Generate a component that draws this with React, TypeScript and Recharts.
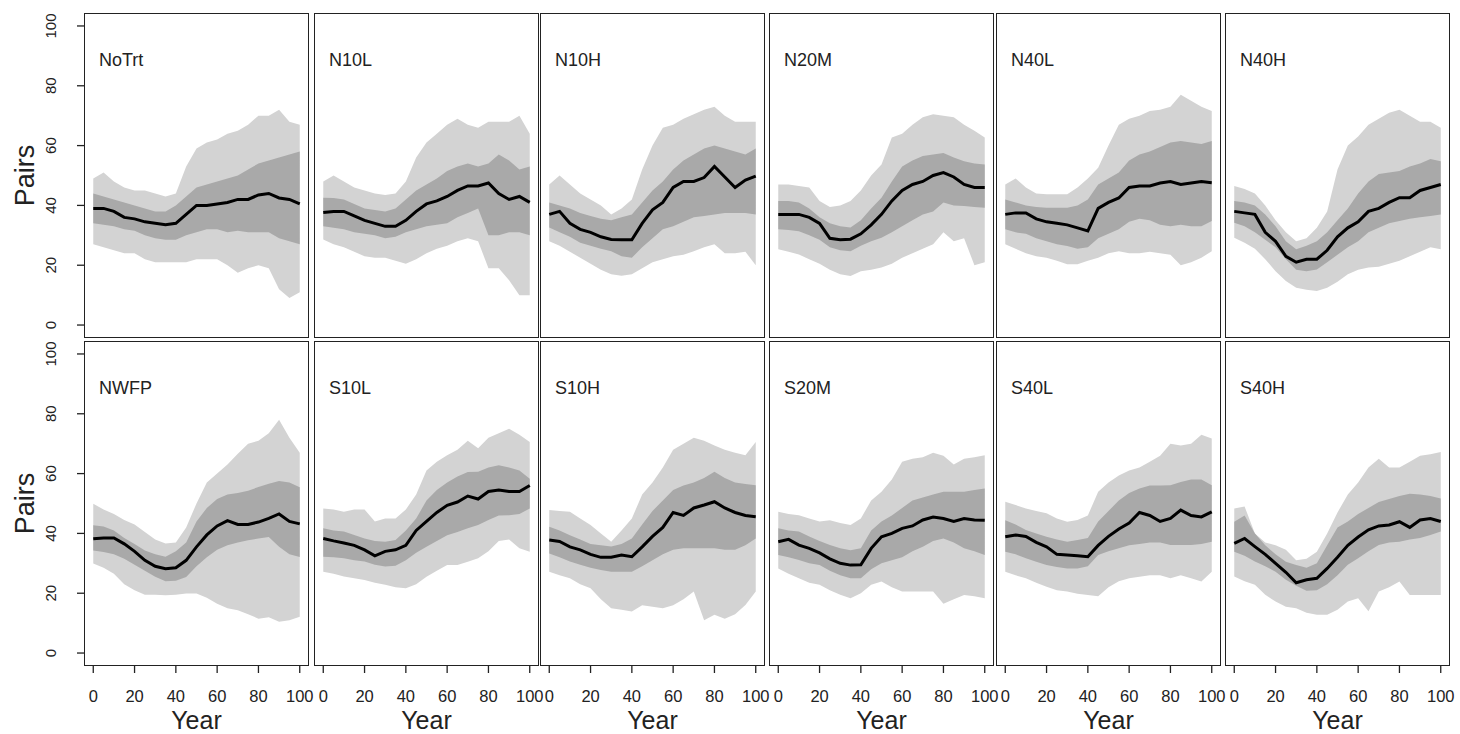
import React from "react";
import {
  ComposedChart,
  Area,
  Line,
  XAxis,
  YAxis,
  Label,
} from "recharts";

// simulated pairs per treatment: median, inner band, outer band (every 5 years)
const years = [0, 5, 10, 15, 20, 25, 30, 35, 40, 45, 50, 55, 60, 65, 70, 75, 80, 85, 90, 95, 100];
const yTicks = [0, 20, 40, 60, 80, 100];
const xTicks = [0, 20, 40, 60, 80, 100];

const noTrtMed = [39, 39, 38, 36, 35.5, 34.5, 34, 33.5, 34, 37, 40, 40, 40.5, 41, 42, 42, 43.5, 44, 42.5, 42, 40.5];
const noTrtInHi = [44, 43, 42, 41, 40, 39, 38, 38, 40, 43, 46, 47, 48, 49, 50, 52, 54, 55, 56, 57, 58];
const noTrtInLo = [34, 33.5, 33, 32, 31.5, 30, 29, 28.5, 28.5, 30, 31, 32, 32, 31, 31.5, 31, 31, 31, 29, 28, 27];
const noTrtOutHi = [49, 51, 48, 46, 45, 45, 44, 43, 44, 53, 59, 61, 62, 64, 65, 67, 70, 70, 72, 68, 67];
const noTrtOutLo = [27, 26, 25, 24, 24, 22, 21, 21, 21, 21, 22, 22, 22, 20, 17.5, 19, 20, 19, 12, 9, 11];

const n10lMed = [37.6, 38, 38, 36.5, 35, 34, 33, 33, 35, 38, 40.5, 41.5, 43, 45, 46.5, 46.5, 47.5, 44, 42, 43, 41];
const n10lInHi = [42.6, 42.5, 42, 40.5, 39, 38.5, 38, 39, 42, 45, 47, 49, 51.5, 53, 54, 53, 54, 57, 55, 52, 53];
const n10lInLo = [33, 32.5, 32, 31, 30.5, 30, 29, 29.5, 31, 32, 33, 33.5, 34, 36, 37.5, 39, 30, 30, 31, 31, 30];
const n10lOutHi = [48, 50, 48, 46, 45, 44, 43.5, 44, 48, 56, 61, 64, 67, 69, 67, 66, 68, 68, 68, 70, 64];
const n10lOutLo = [28.6, 27, 26, 24.5, 23, 22.5, 22.5, 21.5, 20.5, 22, 24, 25.5, 26.5, 28, 29, 28, 19, 19, 15, 10, 10];

const n10hMed = [37, 38, 34, 32, 31, 29.5, 28.6, 28.5, 28.5, 34, 38.5, 41, 46, 48, 48, 49.3, 53, 49.5, 46, 48.5, 49.8];
const n10hInHi = [41, 40, 39, 37.5, 36.5, 35.5, 35, 36, 37, 41, 45, 48, 52, 55, 57, 59, 60, 59, 58, 57, 59];
const n10hInLo = [32.6, 31, 29.5, 27.5, 26.5, 25.5, 24.7, 23, 22.5, 26, 29, 32, 33, 34.5, 36, 36.5, 37, 37.5, 37.5, 37.5, 37];
const n10hOutHi = [47, 50, 47, 44, 42, 40, 37, 39, 42, 52, 60, 66, 67, 69, 70.5, 72, 73, 70, 68, 68, 68];
const n10hOutLo = [28, 26.5, 24.5, 22.5, 20.5, 18.5, 17, 16.5, 17, 19, 21, 22, 23, 23.5, 24.7, 26, 27, 24, 24, 24.5, 20];

const n20mMed = [37, 37, 37, 36, 34, 29, 28.5, 28.7, 30.5, 33.5, 37, 41.5, 45, 47, 48, 50, 51, 49.5, 47, 46, 46];
const n20mInHi = [41.5, 41.5, 41, 39, 36, 34, 33, 32.6, 35, 39, 42.6, 48, 53, 55, 56.5, 57, 57.5, 56, 54.8, 54, 53.7];
const n20mInLo = [32, 31.8, 31.4, 30, 28.5, 26, 25, 24.7, 26.5, 28, 29.2, 31, 33, 35, 37, 38, 41, 40, 39.8, 39.5, 39.2];
const n20mOutHi = [47, 47, 46.5, 46, 41.5, 39.5, 40, 41.5, 45, 50, 53.7, 62.7, 64, 67, 69.5, 70.5, 70, 69.5, 67, 65, 62.7];
const n20mOutLo = [25.3, 24.5, 23.6, 22, 20.5, 18.5, 17, 16.4, 18, 18.5, 19.2, 20.5, 22.5, 24, 25.5, 27, 31, 28, 29, 20, 21];

const n40lMed = [37, 37.5, 37.5, 35.5, 34.5, 34, 33.5, 32.5, 31.5, 39, 41, 42.5, 46, 46.5, 46.5, 47.5, 48, 47, 47.5, 48, 47.6];
const n40lInHi = [42, 41, 40, 39.5, 39.2, 39.2, 39.2, 40, 42, 47, 49, 51, 55, 57, 58, 59.5, 61, 61.5, 61, 60.5, 61.5];
const n40lInLo = [32, 31, 30.5, 29, 28, 27, 26.4, 25.5, 26, 29, 30.5, 32, 34.5, 35.5, 35, 33.5, 33, 33.5, 33, 33, 34.8];
const n40lOutHi = [47, 49, 46, 44, 43.7, 43.7, 43.7, 46, 49, 52.6, 60, 67, 69, 70, 71.6, 72, 73, 77, 75, 73, 71.6];
const n40lOutLo = [27, 25.5, 24, 23, 22.5, 21.5, 20.3, 20.3, 21.5, 22.5, 24, 24.7, 24, 24, 24.5, 24, 23.5, 20, 21, 22.5, 24.7];

const n40hMed = [38, 37.5, 37, 31, 28, 23, 21, 22, 22, 25, 29.5, 32.5, 34.5, 38, 39, 41, 42.6, 42.6, 45, 46, 47];
const n40hInHi = [41.5, 41, 40, 37, 33, 28, 25.3, 26.5, 28, 31, 35, 39, 44, 48, 50.5, 51, 51.5, 53, 54, 55.5, 54.8];
const n40hInLo = [34.2, 33, 31, 28.5, 26, 22, 18.5, 18, 18.6, 21, 23.5, 26, 28, 31, 32.5, 34, 34.8, 35.5, 36, 36.5, 37];
const n40hOutHi = [46.5, 45.5, 44, 40, 35, 31, 28, 29, 32.5, 38, 52, 60, 63, 67, 69, 71, 72, 70, 68, 68, 66];
const n40hOutLo = [29.2, 27.5, 25.5, 22, 18, 14.7, 12.5, 11.8, 11.4, 12.5, 14.5, 17, 18.5, 19.2, 19.5, 20.5, 21.5, 23, 24.5, 26, 25.3];

const nwfpMed = [38.2, 38.5, 38.5, 36.5, 34, 31, 29, 28.2, 28.5, 31, 35.5, 39.5, 42.5, 44.3, 43, 43, 43.8, 45, 46.5, 44, 43.2];
const nwfpInHi = [42.7, 42.3, 41, 38.5, 36.5, 34.3, 33, 32.2, 34, 37, 44, 48.5, 51.5, 53, 53.5, 54.3, 55.5, 56.6, 57.5, 57, 55.4];
const nwfpInLo = [34.3, 33.8, 33, 31.5, 29.5, 27.5, 25.5, 24, 24.2, 25.4, 29, 32, 34.5, 36, 37, 37.7, 38.3, 38.8, 35.5, 33, 32.1];
const nwfpOutHi = [49.9, 48, 46.5, 44.5, 43, 40.5, 38, 36.6, 37, 42, 50, 57, 60, 63, 66.6, 70, 71, 73.5, 78, 72, 67];
const nwfpOutLo = [29.9, 28.5, 26.5, 23, 21, 19.5, 19.5, 19.3, 19.5, 19.9, 19.9, 18.5, 16.5, 15, 14.3, 13, 11.5, 12, 10.5, 11, 12.1];

const s10lMed = [38.3, 37.5, 36.8, 36, 34.5, 32.5, 34, 34.5, 36, 41, 44, 47, 49.4, 50.5, 52.5, 51.5, 54, 54.5, 54, 54, 56];
const s10lInHi = [41.7, 41, 40.6, 39.5, 38.3, 37.5, 37.2, 37.8, 41, 45, 51, 54.5, 57, 59, 60.5, 60.6, 62, 62.8, 62, 61, 58.3];
const s10lInLo = [32.2, 32, 31.7, 31, 30.6, 29.5, 28.9, 29.2, 31, 33.5, 35.5, 37.5, 39.4, 40.5, 41.7, 42.8, 44.5, 46, 46.1, 46.5, 48.3];
const s10lOutHi = [48.3, 48, 47.2, 48, 48, 44, 45, 45, 48, 53, 61, 64, 66.1, 68, 71, 68.5, 72, 73.5, 75, 73, 70.6];
const s10lOutLo = [27.2, 26.5, 25.6, 25, 24.4, 23.5, 22.8, 22, 21.7, 23, 25.5, 27.5, 29.4, 29.4, 30.5, 31.7, 34, 37.5, 38, 35, 33.9];

const s10hMed = [37.8, 37.3, 35.5, 34.5, 33, 32, 32, 32.8, 32.2, 35.5, 39, 42, 47, 46, 48.5, 49.5, 50.6, 48.5, 47, 46, 45.6];
const s10hInHi = [42.2, 41, 39.4, 38, 36.5, 36, 35.6, 36.5, 38.3, 43, 47.5, 51, 54.5, 56, 57, 58.5, 60.6, 58.5, 57, 56.5, 56.1];
const s10hInLo = [33.3, 32, 30.6, 29.5, 28.5, 27.8, 27.2, 27.2, 27.2, 29, 31, 33, 34.5, 35, 35, 35, 35, 34.5, 34.5, 36, 38.3];
const s10hOutHi = [47.8, 47.5, 47.2, 45, 42.8, 40, 37.2, 41, 45, 53, 57, 62, 68, 70, 72, 71, 69.4, 68, 67, 66.1, 70.6];
const s10hOutLo = [27.2, 26, 25, 23, 21.7, 18, 15, 14.5, 13.9, 16, 15.5, 15, 16, 18, 20.6, 11, 12.8, 11.5, 13, 16.1, 20.6];

const s20mMed = [37.2, 38, 36.1, 35, 33.5, 31.5, 30, 29.4, 29.5, 35, 38.9, 40, 41.7, 42.5, 44.5, 45.5, 45, 44, 45, 44.5, 44.4];
const s20mInHi = [41.7, 41, 40.6, 39, 37.5, 36.1, 35, 34.4, 35, 41, 44, 46, 48.5, 51, 52, 53, 53.9, 53.9, 53.9, 54.5, 55];
const s20mInLo = [32.8, 32, 31.1, 30, 29.4, 27.5, 26, 25, 25, 28, 30, 31, 32, 34, 35.5, 37.5, 38.3, 37, 35, 34, 32.8];
const s20mOutHi = [47.2, 46.5, 46.1, 45, 44, 44.4, 43.5, 42.8, 45, 51, 53.9, 58, 64, 65, 65.5, 67, 66, 63, 65, 65.5, 66.1];
const s20mOutLo = [28.3, 26.5, 25, 23.5, 22.8, 21, 19.5, 18.3, 20, 22.8, 23.9, 22, 20.6, 20.6, 20.6, 20.6, 16.5, 18, 19.4, 19, 18.3];

const s40lMed = [38.9, 39.5, 39, 37, 35.5, 33, 32.8, 32.5, 32.2, 36, 39, 41.5, 43.5, 47, 46, 44, 45, 47.8, 46, 45.5, 47.2];
const s40lInHi = [44.4, 43, 41.1, 40, 38.9, 38, 37.2, 37.8, 38.5, 44, 47.5, 51, 53.5, 55, 56, 56, 56.1, 57.2, 58, 58, 56.1];
const s40lInLo = [33.9, 33, 31.7, 30.5, 29.4, 28.8, 28.3, 28.3, 29, 32.8, 34, 35, 36, 36.5, 37, 37, 36.1, 36.1, 36.1, 36.5, 37.2];
const s40lOutHi = [50.6, 49.5, 48.3, 47.5, 46.7, 45, 43.9, 44.5, 46, 53.9, 57, 59.4, 61, 62, 64, 66, 70, 69.4, 70, 73, 71.7];
const s40lOutLo = [27.2, 26, 25, 23.5, 22.2, 21, 20.6, 19.8, 19.4, 19, 22, 24, 25, 25.5, 26, 26, 25, 26, 25, 23.9, 27.2];

const s40hMed = [36.7, 38.3, 35.6, 33, 30, 27, 23.5, 24.5, 25, 28.3, 32, 36, 38.8, 41.2, 42.5, 42.8, 43.9, 42, 44.5, 45, 44];
const s40hInHi = [43.9, 46, 40, 36, 33, 30.5, 29.4, 28.5, 30, 36, 42, 44, 46.5, 48.5, 50.5, 51.5, 52.5, 53.3, 53, 52.5, 51.7];
const s40hInLo = [33.9, 32.5, 30.6, 29, 27.2, 24.5, 22.5, 20.8, 21, 23, 26, 29.5, 31.7, 34, 36.1, 37, 37.2, 38, 38.5, 39.5, 40.6];
const s40hOutHi = [48.3, 49, 40, 37, 36, 34.5, 31, 31.5, 33.9, 40, 47, 53, 57, 62, 65, 62, 62, 64, 66, 66.5, 67.2];
const s40hOutLo = [25.6, 24, 22.8, 19.5, 17.2, 15.5, 15, 13.5, 12.8, 12.8, 14.5, 17.2, 18.3, 14, 20.6, 22, 23.9, 19.4, 19.4, 19.4, 19.4];

const buildRows = (med: number[], inLo: number[], inHi: number[], outLo: number[], outHi: number[]) =>
  years.map((year, i) => ({
    year,
    med: med[i],
    inner: [inLo[i], inHi[i]],
    outer: [outLo[i], outHi[i]],
  }));

const panels = [
  { name: "NoTrt", rows: buildRows(noTrtMed, noTrtInLo, noTrtInHi, noTrtOutLo, noTrtOutHi) },
  { name: "N10L", rows: buildRows(n10lMed, n10lInLo, n10lInHi, n10lOutLo, n10lOutHi) },
  { name: "N10H", rows: buildRows(n10hMed, n10hInLo, n10hInHi, n10hOutLo, n10hOutHi) },
  { name: "N20M", rows: buildRows(n20mMed, n20mInLo, n20mInHi, n20mOutLo, n20mOutHi) },
  { name: "N40L", rows: buildRows(n40lMed, n40lInLo, n40lInHi, n40lOutLo, n40lOutHi) },
  { name: "N40H", rows: buildRows(n40hMed, n40hInLo, n40hInHi, n40hOutLo, n40hOutHi) },
  { name: "NWFP", rows: buildRows(nwfpMed, nwfpInLo, nwfpInHi, nwfpOutLo, nwfpOutHi) },
  { name: "S10L", rows: buildRows(s10lMed, s10lInLo, s10lInHi, s10lOutLo, s10lOutHi) },
  { name: "S10H", rows: buildRows(s10hMed, s10hInLo, s10hInHi, s10hOutLo, s10hOutHi) },
  { name: "S20M", rows: buildRows(s20mMed, s20mInLo, s20mInHi, s20mOutLo, s20mOutHi) },
  { name: "S40L", rows: buildRows(s40lMed, s40lInLo, s40lInHi, s40lOutLo, s40lOutHi) },
  { name: "S40H", rows: buildRows(s40hMed, s40hInLo, s40hInHi, s40hOutLo, s40hOutHi) },
];

const FONT = "'Liberation Sans', Arial, sans-serif";
const INK = "#222";
const LIGHT = "#d3d3d3";
const DARK = "#a9a9a9";

const panelLefts = [85, 315, 541, 770, 997, 1226];
const rowTops = [14, 342];
const PW = 223;
const PH = 323;
const YAXIS_W = 85;
const XAXIS_H = 68;
const PAD_R = 22; // room for the "100" tick label

const YTick = (props: any) => {
  const { x, y, payload } = props;
  const cx = x - 24;
  return (
    <text
      x={cx}
      y={y}
      transform={`rotate(-90 ${cx} ${y})`}
      textAnchor="middle"
      dominantBaseline="central"
      fontSize={15}
      fontFamily={FONT}
      fill={INK}
    >
      {payload.value}
    </text>
  );
};

const XTick = (props: any) => {
  const { x, y, payload } = props;
  return (
    <text
      x={x}
      y={y + 21}
      textAnchor="middle"
      dominantBaseline="central"
      fontSize={16.5}
      fontFamily={FONT}
      fill={INK}
    >
      {payload.value}
    </text>
  );
};

function Panel({ idx }: { idx: number }) {
  const p = panels[idx];
  const col = idx % 6;
  const row = Math.floor(idx / 6);
  const isLeft = col === 0;
  const isBottom = row === 1;
  const left = isLeft ? panelLefts[col] - YAXIS_W : panelLefts[col];
  const width = PW + PAD_R + (isLeft ? YAXIS_W : 0);
  const height = PH + (isBottom ? XAXIS_H : 0);

  return (
    <>
      <div style={{ position: "absolute", left, top: rowTops[row] }}>
        <ComposedChart
          width={width}
          height={height}
          data={p.rows}
          margin={{ top: 0, right: PAD_R, bottom: 0, left: 0 }}
        >
          <XAxis
            dataKey="year"
            type="number"
            domain={[-4, 104]}
            ticks={xTicks}
            allowDataOverflow
            hide={!isBottom}
            height={XAXIS_H}
            axisLine={false}
            tickSize={8}
            tickLine={{ stroke: INK, strokeWidth: 1.3 }}
            tick={<XTick />}
            interval={0}
          >
            <Label
              content={({ viewBox }: any) => (
                <text
                  x={viewBox.x + viewBox.width / 2}
                  y={viewBox.y + 54.5}
                  textAnchor="middle"
                  dominantBaseline="central"
                  fontSize={25}
                  fontFamily={FONT}
                  fill={INK}
                >
                  Year
                </text>
              )}
            />
          </XAxis>
          <YAxis
            type="number"
            domain={[-4, 104]}
            ticks={yTicks}
            allowDataOverflow
            hide={!isLeft}
            width={YAXIS_W}
            axisLine={false}
            tickSize={8}
            tickLine={{ stroke: INK, strokeWidth: 1.3 }}
            tick={<YTick />}
            interval={0}
          >
            <Label
              content={({ viewBox }: any) => {
                const cx = viewBox.x + 25;
                const cy = viewBox.y + viewBox.height / 2;
                return (
                  <text
                    x={cx}
                    y={cy}
                    transform={`rotate(-90 ${cx} ${cy})`}
                    textAnchor="middle"
                    dominantBaseline="central"
                    fontSize={27}
                    fontFamily={FONT}
                    fill={INK}
                  >
                    Pairs
                  </text>
                );
              }}
            />
          </YAxis>
          <Area
            type="linear"
            dataKey="outer"
            stroke="none"
            fill={LIGHT}
            fillOpacity={1}
            isAnimationActive={false}
          />
          <Area
            type="linear"
            dataKey="inner"
            stroke="none"
            fill={DARK}
            fillOpacity={1}
            isAnimationActive={false}
          />
          <Line
            type="linear"
            dataKey="med"
            stroke="#000"
            strokeWidth={3}
            dot={false}
            isAnimationActive={false}
          />
        </ComposedChart>
      </div>
      <div
        style={{
          position: "absolute",
          left: panelLefts[col] - 0.75,
          top: rowTops[row] - 0.75,
          width: PW + 1.5,
          height: PH + 1.5,
          border: `1.5px solid ${INK}`,
          boxSizing: "border-box",
          pointerEvents: "none",
        }}
      />
      <div
        style={{
          position: "absolute",
          left: panelLefts[col] + 14,
          top: rowTops[row] + 36,
          fontSize: 18,
          fontFamily: FONT,
          color: INK,
          lineHeight: "20px",
        }}
      >
        {p.name}
      </div>
    </>
  );
}

export default function App() {
  return (
    <div
      style={{
        position: "absolute",
        left: 0,
        top: 0,
        width: 1460,
        height: 734,
        background: "#fff",
        overflow: "hidden",
      }}
    >
      {panels.map((_, i) => (
        <Panel key={i} idx={i} />
      ))}
    </div>
  );
}
